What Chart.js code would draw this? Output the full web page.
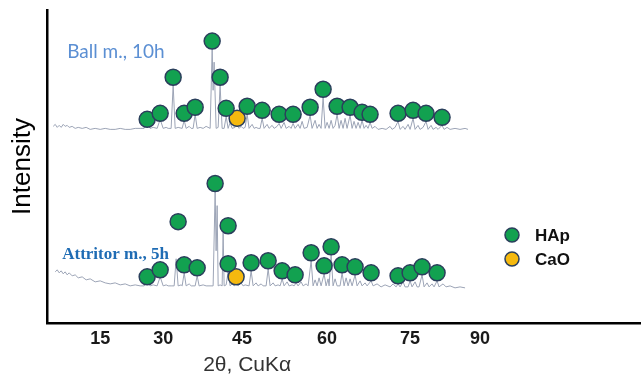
<!DOCTYPE html>
<html><head><meta charset="utf-8">
<script src="https://cdn.jsdelivr.net/npm/chart.js@4"></script>
<style>html,body{margin:0;padding:0;background:#fff}#wrap{width:641px;height:376px;position:relative}</style>
</head><body><div id="wrap"><canvas id="c"></canvas></div>
<script>
// ---- data (2θ in degrees, intensity in arbitrary units) ----
const tickLabels = ['15','30','45','60','75','90'];
const tickAt = [14.21, 24.20, 36.72, 50.20, 63.37, 74.47];
const seriesNames = ['Ball m., 10h', 'Attritor m., 5h'];
const phaseNames = ['HAp', 'CaO'];

const ballTrace = [
[6.75,196],[7.07,198],[7.39,195],[7.70,197],[8.02,195],[8.34,198],[8.65,196],[8.97,197],[9.29,195],[9.76,196],
[10.24,194],[10.72,195],[11.35,194],[11.98,195],[12.62,193],[13.41,194],[14.21,193],[15.00,194],[15.79,193],[16.58,193],
[17.38,194],[18.17,193],[18.96,193],[19.76,194],[20.55,194],[21.18,194],[21.66,198],[22.13,194],[22.61,195],[23.24,194],
[23.72,203],[24.20,194],[24.67,195],[24.99,194],[25.46,194],[25.78,237],[26.10,194],[26.57,195],[27.21,194],[27.53,202],
[27.84,194],[28.32,196],[28.64,194],[28.95,194],[29.27,208],[29.59,194],[30.06,195],[30.54,194],[31.01,196],[31.65,194],
[31.97,273],[32.12,232],[32.28,260],[32.60,194],[32.92,195],[33.23,237],[33.55,194],[33.87,194],[34.19,206],[34.50,194],
[34.82,200],[35.14,194],[35.61,195],[35.93,197],[36.25,194],[36.56,196],[36.88,194],[37.20,195],[37.52,208],[37.83,194],
[38.31,198],[38.63,194],[38.94,195],[39.26,194],[39.58,194],[39.90,204],[40.21,194],[40.69,198],[41.00,194],[41.48,197],
[41.80,194],[42.27,196],[42.59,199],[42.91,194],[43.38,200],[43.70,194],[44.18,196],[44.49,194],[44.81,199],[45.13,194],
[45.60,198],[45.92,194],[46.24,201],[46.56,194],[47.03,195],[47.51,207],[47.82,194],[48.30,202],[48.62,194],[48.93,198],
[49.25,194],[49.57,225],[49.89,194],[50.20,200],[50.52,194],[50.84,202],[51.15,194],[51.47,197],[51.79,208],[52.11,194],
[52.42,202],[52.74,194],[53.06,204],[53.37,194],[53.85,207],[54.17,194],[54.48,201],[54.80,194],[55.12,200],[55.44,194],
[55.75,202],[56.07,194],[56.39,197],[56.70,194],[57.02,200],[57.34,194],[57.81,196],[58.29,193],[58.93,194],[59.56,193],
[60.19,196],[60.51,193],[60.99,195],[61.46,201],[61.78,193],[62.26,196],[62.57,193],[63.05,198],[63.37,193],[63.84,204],
[64.16,193],[64.63,197],[64.95,193],[65.43,195],[65.90,201],[66.22,193],[66.70,197],[67.01,193],[67.49,195],[67.81,193],
[68.44,197],[68.76,193],[69.23,195],[69.71,193],[70.50,194],[71.29,193],[72.09,194],[72.56,193]
];

const attritorTrace = [
[7.07,51],[7.39,53],[7.70,50],[8.02,52],[8.34,49],[8.65,51],[8.97,48],[9.29,50],[9.76,47],[10.24,48],
[10.72,45],[11.35,46],[11.98,43],[12.62,44],[13.41,41],[14.21,42],[15.00,40],[15.79,39],[16.58,40],[17.38,38],
[18.17,39],[18.96,37],[19.76,38],[20.55,37],[21.18,37],[21.66,41],[22.13,37],[22.61,38],[23.24,37],[23.72,46],
[24.20,37],[24.67,38],[24.99,37],[25.46,37],[25.94,37],[26.26,64],[26.57,37],[27.05,38],[27.21,37],[27.53,50],
[27.84,37],[28.32,39],[28.64,37],[29.27,37],[29.59,47],[29.90,37],[30.54,38],[31.01,37],[32.12,37],[32.44,131],
[32.60,72],[32.76,117],[32.92,37],[33.23,38],[33.55,37],[33.71,90],[33.87,37],[34.19,38],[34.50,51],[34.82,37],
[35.14,39],[35.46,37],[35.77,39],[36.09,37],[36.56,40],[36.88,37],[37.20,38],[37.83,37],[38.15,52],[38.47,37],
[38.94,40],[39.26,37],[39.74,39],[40.05,37],[40.53,37],[40.85,54],[41.16,37],[41.64,40],[41.96,37],[42.43,38],
[42.75,37],[43.07,44],[43.38,37],[43.86,41],[44.18,37],[44.65,38],[44.97,37],[45.29,40],[45.60,37],[46.08,41],
[46.40,37],[46.87,39],[47.19,37],[47.67,62],[47.98,37],[48.30,43],[48.62,37],[48.93,45],[49.25,37],[49.73,49],
[50.04,37],[50.36,44],[50.52,37],[50.84,68],[51.15,37],[51.47,44],[51.79,37],[52.26,37],[52.58,50],[52.90,37],
[53.22,45],[53.53,37],[53.85,44],[54.17,37],[54.64,48],[54.96,37],[55.44,42],[55.75,37],[56.23,40],[56.55,37],
[57.18,42],[57.50,37],[58.13,39],[58.77,36],[59.40,38],[60.19,36],[60.67,39],[61.15,36],[61.46,39],[61.78,36],
[62.26,41],[62.57,36],[63.05,36],[63.37,42],[63.68,36],[64.16,41],[64.48,36],[64.79,36],[65.27,48],[65.59,36],
[66.06,40],[66.38,36],[66.85,39],[67.17,36],[67.65,42],[67.96,36],[68.60,39],[69.07,36],[69.71,37],[70.50,35],
[71.29,36],[72.09,35]
];

const hapBall = [
[21.66,203],[23.72,209],[25.78,245],[27.53,209],[29.27,215],[31.97,281],[33.23,245],[34.19,214],[37.52,216],[39.90,212],
[42.59,208],[44.81,208],[47.51,215],[49.57,233],[51.79,216],[53.85,215],[55.75,210],[57.02,208],[61.46,209],[63.84,212],
[65.90,209],[68.44,205]
];
const hapAttritor = [
[21.66,46],[23.72,53],[26.57,101],[27.53,58],[29.59,55],[32.44,139],[34.50,97],[34.50,59],[38.15,60],[40.85,62],
[43.07,52],[45.13,48],[47.67,70],[49.73,57],[50.84,76],[52.58,58],[54.64,56],[57.18,50],[61.46,47],[63.37,50],
[65.27,56],[67.65,50]
];
const caoBall = [[35.93,204]];
const caoAttritor = [[35.77,46]];

// ---- chart ----
const toXY = a => a.map(p => ({x: p[0], y: p[1]}));
const hapColor = '#12a150', caoColor = '#f5b90f', edge = '#2b3f5c';
const traceColor = '#9ca4b6';

const annot = {
  id: 'annot',
  afterDraw(chart) {
    const {ctx, scales: {x, y}} = chart;
    ctx.save();
    ctx.textBaseline = 'middle';
    ctx.textAlign = 'left';
    ctx.fillStyle = '#5b8fd3';
    ctx.font = '19px Lato';
    ctx.fillText(seriesNames[0], x.getPixelForValue(8.97), y.getPixelForValue(270));
    ctx.fillStyle = '#1f6cb4';
    ctx.font = 'bold 17px "Liberation Serif"';
    ctx.fillText(seriesNames[1], x.getPixelForValue(8.18), y.getPixelForValue(68));
    // x axis title
    ctx.fillStyle = '#333';
    ctx.font = '21px "Liberation Sans"';
    ctx.textAlign = 'center';
    ctx.fillText('2θ, CuKα', x.getPixelForValue(37.52), chart.height - 11);
    // legend
    const items = [[phaseNames[0], hapColor], [phaseNames[1], caoColor]];
    items.forEach((it, i) => {
      const cy = 235 + i * 24;
      ctx.beginPath();
      ctx.arc(512, cy, 7, 0, Math.PI * 2);
      ctx.fillStyle = it[1];
      ctx.fill();
      ctx.lineWidth = 1.5;
      ctx.strokeStyle = edge;
      ctx.stroke();
      ctx.fillStyle = '#111';
      ctx.font = 'bold 17px "Liberation Sans"';
      ctx.textAlign = 'left';
      ctx.fillText(it[0], 535, cy + 1);
    });
    ctx.restore();
  }
};

const markerDs = (label, data, color) => ({
  label, data: toXY(data), showLine: false, pointRadius: 8, pointHoverRadius: 8,
  pointBackgroundColor: color, pointBorderColor: edge, pointBorderWidth: 1.5, order: 0
});
const traceDs = (label, data) => ({
  label, data: toXY(data), borderColor: traceColor, borderWidth: 1, pointRadius: 0,
  tension: 0, fill: false, order: 1
});

new Chart(document.getElementById('c'), {
  type: 'line',
  data: {
    datasets: [
      markerDs(phaseNames[0], hapBall, hapColor),
      markerDs(phaseNames[0], hapAttritor, hapColor),
      markerDs(phaseNames[1], caoBall, caoColor),
      markerDs(phaseNames[1], caoAttritor, caoColor),
      traceDs(seriesNames[0], ballTrace),
      traceDs(seriesNames[1], attritorTrace)
    ]
  },
  options: {
    responsive: true, maintainAspectRatio: false, animation: false, devicePixelRatio: 1,
    layout: {autoPadding: false, padding: {top: 10, right: 0, bottom: 21.4, left: 0}},
    plugins: {legend: {display: false}, tooltip: {enabled: false}},
    scales: {
      x: {
        type: 'linear', min: 5.8, max: 100,
        grid: {display: false, drawTicks: false},
        border: {display: true, color: '#000', width: 2.5},
        afterBuildTicks: s => { s.ticks = tickAt.map(v => ({value: v})); },
        afterFit: s => { s.paddingLeft = 0; s.paddingRight = 0; },
        ticks: {
          autoSkip: false, maxRotation: 0, padding: 5, color: '#1a1a1a',
          font: {family: 'Liberation Sans', size: 18, weight: 'bold'},
          callback: (v, i) => tickLabels[i]
        }
      },
      y: {
        type: 'linear', min: 0, max: 312,
        grid: {display: false, drawTicks: false},
        border: {display: true, color: '#000', width: 2.5},
        ticks: {display: false},
        title: {display: true, text: 'Intensity', color: '#000',
          font: {family: 'Liberation Sans', size: 26}, padding: {top: 7, bottom: 9}}
      }
    }
  },
  plugins: [annot]
});
</script>
</body></html>
